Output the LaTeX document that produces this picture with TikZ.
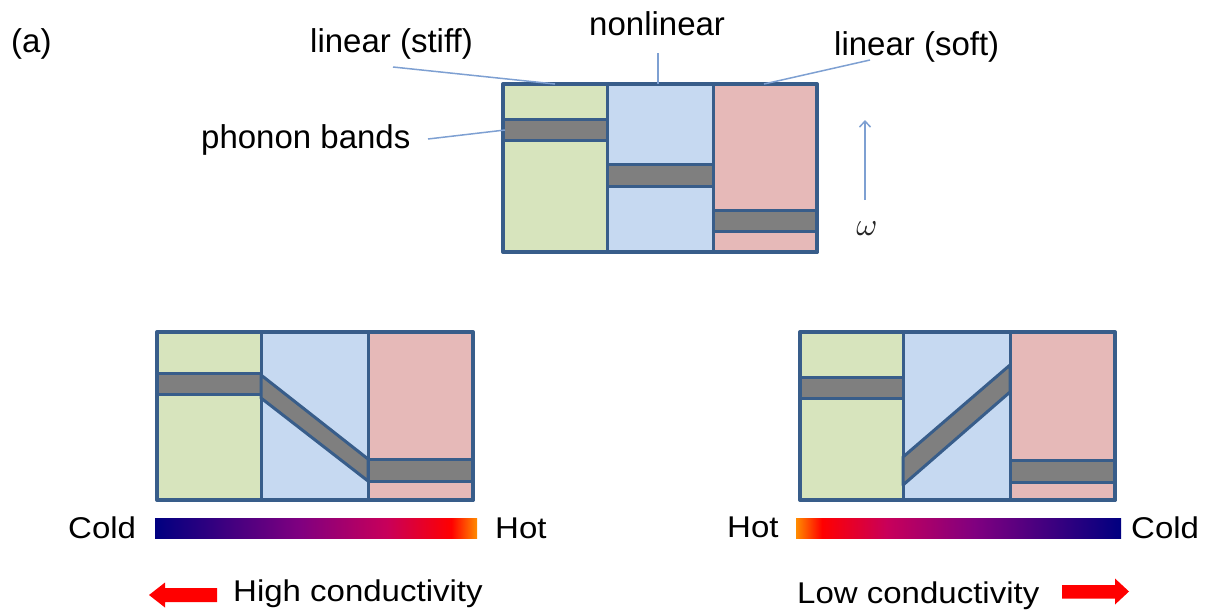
\documentclass[tikz,border=0pt]{standalone}
\usepackage{fontspec}
\usepackage{graphicx}
\setmainfont{Liberation Sans}
\usetikzlibrary{arrows.meta}
\definecolor{bord}{HTML}{385D8A}
\definecolor{cgreen}{HTML}{D7E4BD}
\definecolor{cblue}{HTML}{C6D9F1}
\definecolor{cpink}{HTML}{E6B9B8}
\definecolor{cgray}{HTML}{7F7F7F}
\definecolor{leadc}{HTML}{7EA0D2}
\definecolor{hnavy}{RGB}{0,0,128}
\definecolor{hpurple}{RGB}{128,0,128}
\definecolor{hcrim}{RGB}{200,0,90}
\definecolor{hred}{RGB}{255,0,0}
\definecolor{horange}{RGB}{255,140,0}
\definecolor{arrred}{RGB}{255,0,0}
\pgfdeclarehorizontalshading{heatLR}{100bp}{color(0bp)=(hnavy); color(25bp)=(hnavy); color(47.5bp)=(hpurple); color(61bp)=(hcrim); color(71bp)=(hred); color(75bp)=(horange); color(100bp)=(horange)}
\pgfdeclarehorizontalshading{heatRL}{100bp}{color(0bp)=(horange); color(25bp)=(horange); color(29bp)=(hred); color(39bp)=(hcrim); color(52.5bp)=(hpurple); color(75bp)=(hnavy); color(100bp)=(hnavy)}
\tikzset{
  cell/.style={draw=bord, line width=3pt, line join=round},
  outerbox/.style={draw=bord, line width=4pt, line join=round},
  leader/.style={draw=leadc, line width=1.5pt},
  lab/.style={font=\fontsize{33}{40}\selectfont, inner sep=0pt, anchor=base west},
  botlab/.style={font=\fontsize{30}{36}\selectfont, inner sep=0pt, anchor=base west},
  bar/.style={inner sep=0pt, outer sep=0pt, anchor=north west, minimum height=20pt},
  redarrow/.style={fill=arrred}
}
\begin{document}
\begin{tikzpicture}[x=1pt, y=-1pt]
\useasboundingbox (0,0) rectangle (1206,614);

% ---------- labels ----------
\node[lab] (a) at (11,52) {(a)};
\node[lab] (stiff) at (310,52.5) {linear (stiff)};
\node[lab] (nonlin) at (589,35) {nonlinear};
\node[lab] (soft) at (834,55) {linear (soft)};
\node[lab] (phonon) at (201,148) {phonon bands};
\node[text=black!85, inner sep=0pt] (omega) at (867,229) {\scalebox{3.2}{$\omega$}};

% ---------- top diagram ----------
\draw[cell, fill=cgreen] (503,84) rectangle (607,119);
\draw[cell, fill=cgray]  (503,119) rectangle (607,140);
\draw[cell, fill=cgreen] (503,140) rectangle (607,252);
\draw[cell, fill=cblue]  (607,84) rectangle (713,164);
\draw[cell, fill=cgray]  (607,164) rectangle (713,186);
\draw[cell, fill=cblue]  (607,186) rectangle (713,252);
\draw[cell, fill=cpink]  (713,84) rectangle (817,210);
\draw[cell, fill=cgray]  (713,210) rectangle (817,231);
\draw[cell, fill=cpink]  (713,231) rectangle (817,252);
\draw[outerbox] (503,84) rectangle (817,252);

% leader lines
\coordinate (stiffA) at (393,67);  \coordinate (stiffB) at (555,84);
\coordinate (nonA) at (658,53);    \coordinate (nonB) at (658,84);
\coordinate (softA) at (870,60);   \coordinate (softB) at (764,84);
\coordinate (phA) at (428,139);    \coordinate (phB) at (505,130);
\coordinate (omA) at (865,200);    \coordinate (omB) at (865,120);
\draw[leader] (stiffA) -- (stiffB);
\draw[leader] (nonA) -- (nonB);
\draw[leader] (softA) -- (softB);
\draw[leader] (phA) -- (phB);
\draw[leader, -{Straight Barb[length=6pt,width=11pt]}] (omA) -- (omB);

% ---------- bottom-left diagram ----------
\draw[cell, fill=cgreen] (157,332) rectangle (261,373);
\draw[cell, fill=cgray]  (157,373) rectangle (261,394);
\draw[cell, fill=cgreen] (157,394) rectangle (261,500);
\draw[cell, fill=cblue]  (261,332) rectangle (368,500);
\draw[cell, fill=cpink]  (368,332) rectangle (473,459);
\draw[cell, fill=cgray]  (368,459) rectangle (473,481);
\draw[cell, fill=cpink]  (368,481) rectangle (473,500);
\draw[cell, fill=cgray]  (261,375) -- (368,459) -- (368,481) -- (261,398) -- cycle;
\draw[outerbox] (157,332) rectangle (473,500);

% ---------- bottom-right diagram ----------
\draw[cell, fill=cgreen] (800,332) rectangle (903,377);
\draw[cell, fill=cgray]  (800,377) rectangle (903,398);
\draw[cell, fill=cgreen] (800,398) rectangle (903,500);
\draw[cell, fill=cblue]  (903,332) rectangle (1010,500);
\draw[cell, fill=cpink]  (1010,332) rectangle (1115,460);
\draw[cell, fill=cgray]  (1010,460) rectangle (1115,482);
\draw[cell, fill=cpink]  (1010,482) rectangle (1115,500);
\draw[cell, fill=cgray]  (903,457) -- (1010,365) -- (1010,392) -- (903,485) -- cycle;
\draw[outerbox] (800,332) rectangle (1115,500);

% ---------- gradient bars ----------
\node[bar, minimum width=322pt, shading=heatLR] (barL) at (155,518) {};
\node[bar, minimum width=325pt, shading=heatRL] (barR) at (796,518) {};
\node[botlab] (coldL) at (68,538) {\scalebox{1.1}[1]{Cold}};
\node[botlab] (hotL) at (495,538) {\scalebox{1.1}[1]{Hot}};
\node[botlab] (hotR) at (727,537) {\scalebox{1.1}[1]{Hot}};
\node[botlab] (coldR) at (1131,538) {\scalebox{1.1}[1]{Cold}};

% ---------- conductivity ----------
\fill[redarrow] (217,588) -- (165,588) -- (165,582.5) -- (149,595) -- (165,607.5) -- (165,602) -- (217,602) -- cycle;
\node[botlab] (high) at (233,601.5) {\scalebox{1.1}[1]{High conductivity}};
\node[botlab] (low) at (797,603) {\scalebox{1.1}[1]{Low conductivity}};
\fill[redarrow] (1062,585) -- (1115,585) -- (1115,578.5) -- (1129,591.5) -- (1115,604.5) -- (1115,598.5) -- (1062,598.5) -- cycle;
\end{tikzpicture}
\end{document}
